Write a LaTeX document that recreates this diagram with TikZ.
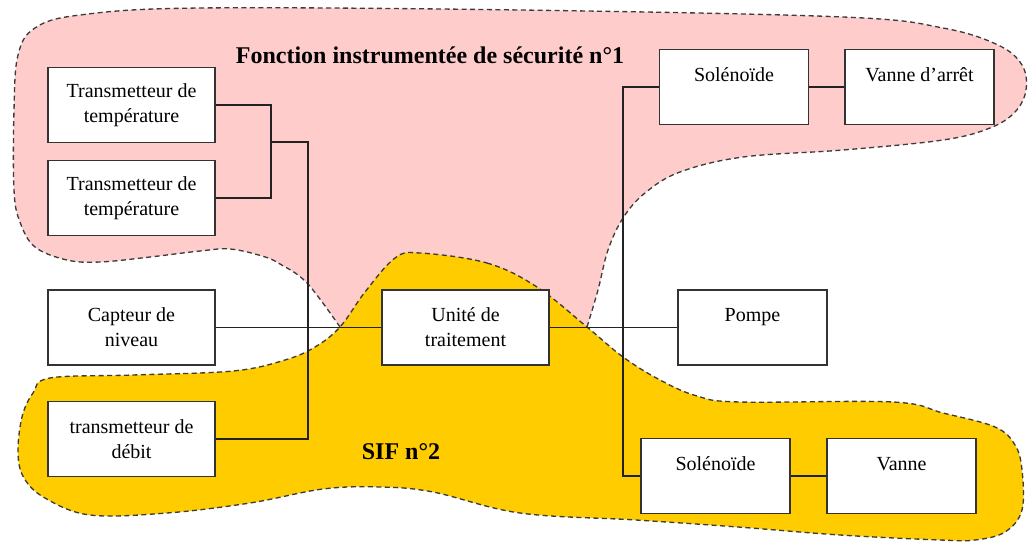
\documentclass[tikz,border=0pt]{standalone}
\usepackage{fontspec}
\setmainfont{Liberation Serif}

\tikzset{every picture/.style={line width=0.75pt}}
\tikzset{
  boite/.style={draw={rgb, 255:red, 51; green, 51; blue, 51}, line width=1.1pt, fill=white, align=center, minimum height=56.25pt, inner sep=0pt, font=\fontsize{15}{18.75}\selectfont},
  boitelarge/.style={boite, minimum width=125.25pt},
  boiteetroite/.style={boite, minimum width=111.75pt},
  zone/.style={draw={rgb, 255:red, 60; green, 60; blue, 60}, dash pattern=on 3.75pt off 2.6pt, line width=1pt},
  liaison/.style={draw={rgb, 255:red, 34; green, 34; blue, 34}, line width=0.9pt},
  titre/.style={font=\fontsize{18}{22}\selectfont\bfseries}
}

\begin{document}
\begin{tikzpicture}[x=0.75pt,y=0.75pt,yscale=-1,xscale=1]
\useasboundingbox (0,0) rectangle (1030,542);

%Shape: Blob [id:sif1] 
\draw [zone, fill={rgb, 255:red, 255; green, 204; blue, 204}] plot [smooth, tension=0.6] coordinates {(340,327) (307,283) (280,264) (262,256) (230,249) (200,251) (150,257) (100,262) (67,260) (35,247) (20,222) (14,190) (14,110) (18,55) (35,28) (80,15) (200,8) (520,10) (843,17) (943,28) (998,45) (1022,65) (1026,90) (1015,112) (990,128) (943,140) (843,150) (743,157) (680,172) (645,193) (623,218) (608,250) (598,290) (587,327)} -- (560,345) -- (370,345) -- cycle ;

%Shape: Blob [id:sif2] 
\draw [zone, fill={rgb, 255:red, 255; green, 204; blue, 0}] plot [smooth cycle, tension=0.6] coordinates {(420,253) (487,263) (537,287) (587,327) (623,357) (660,380) (697,396) (740,402) (893,402) (943,413) (995,427) (1015,445) (1022,470) (1022,510) (1005,532) (975,540) (940,540) (840,535) (738,527) (636,520) (520,513) (433,492) (380,487) (323,489) (250,503) (167,513) (90,515) (45,498) (24,478) (18,453) (22,417) (33,393) (50,378) (133,375) (233,371) (285,360) (315,347) (340,327) (365,292) (395,258)} ;

%Shape: Rectangle [id:tt1] 
\node [boitelarge] (tt1) at (131.5,105) {Transmetteur de\\température};
%Shape: Rectangle [id:tt2] 
\node [boitelarge] (tt2) at (131.5,198) {Transmetteur de\\température};
%Shape: Rectangle [id:niveau] 
\node [boitelarge] (niveau) at (131.5,327.5) {Capteur de\\niveau};
%Shape: Rectangle [id:debit] 
\node [boitelarge] (debit) at (131.5,439) {transmetteur de\\débit};
%Shape: Rectangle [id:unite] 
\node [boitelarge] (unite) at (465.5,327.5) {Unité de\\traitement};
%Shape: Rectangle [id:pompe] 
\node [boiteetroite] (pompe) at (752.5,327.5) {Pompe\\~};
%Shape: Rectangle [id:sol1] 
\node [boiteetroite] (sol1) at (734,87) {Solénoïde\\~};
%Shape: Rectangle [id:vanne1] 
\node [boiteetroite] (vanne1) at (919.5,87) {Vanne d’arrêt\\~};
%Shape: Rectangle [id:sol2] 
\node [boiteetroite] (sol2) at (715.5,476) {Solénoïde\\~};
%Shape: Rectangle [id:vanne2] 
\node [boiteetroite] (vanne2) at (901.5,476) {Vanne\\~};

%Straight Lines [id:liaisons] 
\coordinate (j1) at (271,142);
\coordinate (j2) at (308,142);
\coordinate (j3) at (623,327.5);
\draw [liaison] (tt1.east) -| (j1) |- (tt2.east) ;
\draw [liaison] (j1) -- (j2) |- (debit.east) ;
\draw [liaison] (niveau) -- (unite) ;
\draw [liaison] (unite) -- (pompe) ;
\draw [liaison] (sol1) -| (j3) |- (sol2) ;
\draw [liaison] (sol1) -- (vanne1) ;
\draw [liaison] (sol2) -- (vanne2) ;

\node [titre] (titre1) at (430,55) {Fonction instrumentée de sécurité n°1};
\node [titre] (titre2) at (401,452) {SIF n°2};

\end{tikzpicture}
\end{document}
